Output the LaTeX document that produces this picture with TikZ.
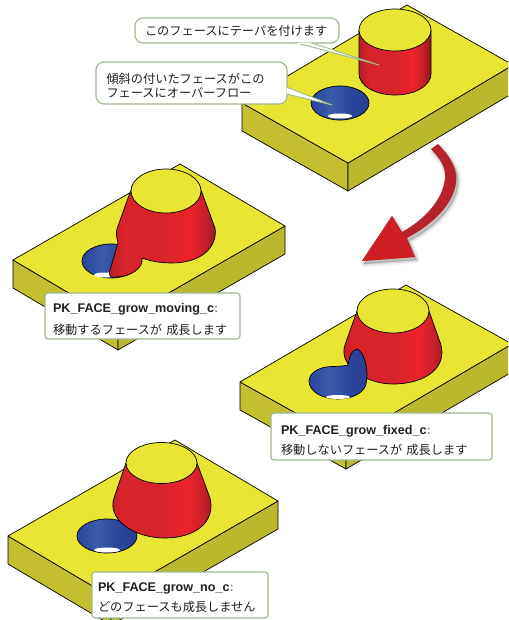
\documentclass[tikz,border=0pt]{standalone}
\usepackage{fontspec}
\setmainfont{Liberation Sans}
\newfontfamily\jpfont{Noto Sans CJK JP}
\usetikzlibrary{calc}
\definecolor{plateTop}{HTML}{E9E633}
\definecolor{sideL}{HTML}{C4BF2F}
\definecolor{sideR}{HTML}{BAB92E}
\definecolor{boxEdge}{HTML}{9DB98D}
\definecolor{inkText}{HTML}{202020}
\definecolor{colonInk}{HTML}{7F8FA8}
\definecolor{arrowHead}{HTML}{CE1F24}
\definecolor{arrowBody}{HTML}{B5222A}
\definecolor{ra}{HTML}{B51E25}
\definecolor{rb}{HTML}{D9232A}
\definecolor{rc}{HTML}{EC2229}
\definecolor{rd}{HTML}{C9202A}
\definecolor{re}{HTML}{8C191C}
\definecolor{ba}{HTML}{2A459C}
\definecolor{bb}{HTML}{3B5BAA}
\definecolor{bc}{HTML}{28408F}
\pgfdeclarehorizontalshading{redface}{100bp}{color(0bp)=(ra); color(25bp)=(ra); color(32bp)=(rb); color(50bp)=(rb); color(62bp)=(rc); color(69bp)=(rd); color(75bp)=(re); color(100bp)=(re)}
\pgfdeclarehorizontalshading{blueface}{100bp}{color(0bp)=(ba); color(25bp)=(ba); color(42bp)=(bb); color(60bp)=(ba); color(75bp)=(bc); color(100bp)=(bc)}
\tikzset{
  outline/.style={draw=black,line width=0.7pt,line join=round},
  redsurf/.style={outline,shading=redface,shading angle=0},
  bluesurf/.style={outline,shading=blueface,shading angle=0},
  yellowsurf/.style={outline,fill=plateTop},
  slit/.style={fill=white},
  callout/.style={draw=boxEdge,line width=1.1pt,fill=white,text=inkText,align=left,inner ysep=0pt,font=\fontsize{12.2}{14.5}\selectfont},
  tail/.style={draw=boxEdge,line width=0.9pt,fill=white,line join=round},
  arrowpart/.style={line join=round},
}
\newcommand{\codeline}[1]{\rule{0pt}{#1}\fontsize{12.6}{14.5}\selectfont\bfseries}
\newcommand{\codecolon}{{\color{colonInk}:}}
% #1 top, #2 left, #3 front, #4 right, #5 thickness
\newcommand{\plate}[5]{
  \path[outline,fill=sideL] (#2) -- (#3) -- ($(#3)+(0,#5)$) -- ($(#2)+(0,#5)$) -- cycle;
  \path[outline,fill=sideR] (#3) -- (#4) -- ($(#4)+(0,#5)$) -- ($(#3)+(0,#5)$) -- cycle;
  \path[yellowsurf] (#1) -- (#4) -- (#3) -- (#2) -- cycle;
}
\newcommand{\arrowshape}{
  (438,144) .. controls (451,157) and (458,170) .. (456,183)
  .. controls (453,205) and (432,225) .. (407,238)
  -- (415,257) -- (362,261) -- (392,216) -- (402,232)
  .. controls (424,220) and (443,200) .. (445,178)
  .. controls (446,168) and (440,158) .. (431,149) -- cycle
}
\begin{document}
\begin{tikzpicture}[x=1pt,y=-1pt]
\clip (0,0) rectangle (508,620);
\fill[white] (0,0) rectangle (508,620);

% --- top plate: cylinder and round hole
\plate{407,5}{242,103}{348,163}{513,65}{28}
\path[bluesurf] (340,103) ellipse [x radius=29,y radius=17];
\path[slit] (340,116) ellipse [x radius=12,y radius=2.5];
\path[redsurf] (359,30) -- (359,74) arc [start angle=180,end angle=0,x radius=36,y radius=21] -- (431,30) -- cycle;
\path[yellowsurf] (395,30) ellipse [x radius=36,y radius=21];

% --- curved arrow
\foreach \w/\o in {7/0.03,5/0.04,3/0.05,1/0.07}{
  \path[fill=black,draw=black,opacity=\o,line width=\w pt,arrowpart,shift={(2,3)}] \arrowshape;
}
\path[fill=arrowBody,arrowpart] \arrowshape;
\path[fill=arrowHead,arrowpart] (415,257) -- (362,261) -- (392,216) -- cycle;

% --- moving plate
\plate{180,164}{13,260}{118,322}{285,226}{28}
\path[bluesurf] (111,261) ellipse [x radius=29,y radius=17];
\path[slit] (105,275) ellipse [x radius=11,y radius=2.5];
\path[redsurf] (131,190) -- (118,226) .. controls (115,233) and (117,238) .. (118,243)
  -- (110,270) .. controls (108,276) and (111,278) .. (116,277)
  .. controls (130,277) and (144,268) .. (142,258)
  .. controls (152,262) and (165,263) .. (172,263)
  .. controls (200,263) and (218,248) .. (215,228) -- (201,190) -- cycle;
\path[yellowsurf] (166,191) ellipse [x radius=35,y radius=22];

% --- fixed plate
\plate{406,285}{240,382}{346,441}{512,344}{28}
\path[redsurf] (357,311) -- (345,345) .. controls (338,365) and (365,384) .. (393,384)
  .. controls (425,384) and (447,368) .. (441,345) -- (429,311) -- cycle;
\path[yellowsurf] (393,311) ellipse [x radius=36,y radius=22];
\path[bluesurf] (357,349) .. controls (351,350) and (349,358) .. (348,365)
  .. controls (340,367) and (333,366) .. (326,367)
  .. controls (315,369) and (309,375) .. (309,381)
  .. controls (309,392) and (323,399) .. (338,399)
  .. controls (352,399) and (364,393) .. (366,384)
  .. controls (369,372) and (365,352) .. (357,349) -- cycle;
\path[slit] (338,397) ellipse [x radius=12,y radius=2];

% --- no-grow plate
\plate{175,440}{8,536}{111,597}{278,501}{28}
\path[bluesurf] (107,536) ellipse [x radius=30,y radius=17];
\path[slit] (107,550) ellipse [x radius=13,y radius=2.5];
\path[redsurf] (126,463) -- (114,498) .. controls (107,518) and (132,538) .. (165,538)
  .. controls (195,538) and (216,522) .. (210,498) -- (197,463) -- cycle;
\path[yellowsurf] (161.5,463) ellipse [x radius=35.5,y radius=20.5];

% --- callouts
\node[callout,rounded corners=8pt,text width=184pt,inner xsep=10pt,minimum height=25pt] (calloutA) at (237,30.5) {\jpfont このフェースにテーパを付けます};
\node[callout,rounded corners=8pt,text width=170pt,inner xsep=10.5pt,minimum height=42pt] (calloutB) at (191.5,83) {\jpfont\setlength{\baselineskip}{15.5pt}\rule{0pt}{15pt}傾斜の付いたフェースがこの\\フェースにオーバーフロー};
\coordinate (tipA) at (379,65);
\coordinate (tipB) at (332,105);
\path[tail] ($(calloutA.south east)+(-44,-1)$) -- (tipA) -- ($(calloutA.south east)+(-29,-1)$);
\path[tail] ($(calloutB.east)+(-1,4)$) -- (tipB) -- ($(calloutB.east)+(-1,11)$);
\path[draw=white,line width=1.6pt] ($(calloutA.south east)+(-43,0)$) -- ($(calloutA.south east)+(-30,0)$);
\path[draw=white,line width=1.6pt] ($(calloutB.east)+(0,5)$) -- ($(calloutB.east)+(0,10)$);

\node[callout,rounded corners=3pt,text width=179pt,inner xsep=8pt,minimum height=46pt] (boxMoving) at (142.5,316) {\codeline{16pt}PK\_FACE\_grow\_moving\_c\codecolon\\[7pt]\mdseries\fontsize{12.2}{14.5}\selectfont\jpfont 移動するフェースが 成長します};
\node[callout,rounded corners=3pt,text width=201pt,inner xsep=10pt,minimum height=47pt] (boxFixed) at (381.5,436.5) {\codeline{17pt}PK\_FACE\_grow\_fixed\_c\codecolon\\[5.5pt]\mdseries\fontsize{12.2}{14.5}\selectfont\jpfont 移動しないフェースが 成長します};
\node[callout,rounded corners=3pt,text width=164pt,inner xsep=6pt,minimum height=46pt] (boxNone) at (180,595) {\codeline{14pt}PK\_FACE\_grow\_no\_c\codecolon\\[5.5pt]\mdseries\fontsize{12.2}{14.5}\selectfont\jpfont どのフェースも成長しません};
\end{tikzpicture}
\end{document}
